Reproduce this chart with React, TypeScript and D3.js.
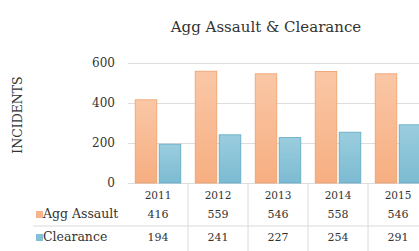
import React, { useEffect, useRef } from 'react';
import * as d3 from 'd3';

const years = ['2011', '2012', '2013', '2014', '2015'];
const seriesNames = ['Agg Assault', 'Clearance'];
const aggAssault = [416, 559, 546, 558, 546];
const clearance = [194, 241, 227, 254, 291];
const yTicks = [0, 200, 400, 600];

export default function App() {
  const ref = useRef<SVGSVGElement>(null);
  const width = 419;
  const height = 251;
  const margin = { Top: 63, Left: 128, Bottom: 183 };
  const colors = ['#F7B48A', '#84C1D6'];
  const strokes = ['#EE9E6C', '#62A9C3'];
  const textColor = '#333';
  const font = 'DejaVu Serif';

  useEffect(() => {
    const svg = d3.select(ref.current);
    svg.selectAll('*').remove();

    // ---------- gradients ----------
    const defs = svg.append('defs');
    const grads = [
      ['#FAC7A6', '#F6AE80'],
      ['#9ACDDE', '#7CBBD2'],
    ];
    grads.forEach((g, i) => {
      const lg = defs.append('linearGradient')
        .attr('id', `grad${i}`)
        .attr('x1', 0).attr('y1', 0).attr('x2', 0).attr('y2', 1);
      lg.append('stop').attr('offset', '0%').attr('stop-color', g[0]);
      lg.append('stop').attr('offset', '100%').attr('stop-color', g[1]);
    });

    // ---------- scales ----------
    const x0 = d3.scaleBand<string>()
      .domain(years)
      .range([margin.Left, margin.Left + 60 * years.length])
      .paddingInner(0)
      .paddingOuter(0);

    const x1 = d3.scaleBand<string>()
      .domain(seriesNames)
      .range([0, x0.bandwidth()])
      .paddingInner(0.1)
      .paddingOuter(0.3);

    const y = d3.scaleLinear()
      .domain([0, 600])
      .range([margin.Bottom, margin.Top]);

    // ---------- title ----------
    svg.append('text')
      .attr('x', 266)
      .attr('y', 32)
      .attr('text-anchor', 'middle')
      .attr('font-family', font)
      .attr('font-size', '15px')
      .attr('fill', textColor)
      .text('Agg Assault & Clearance');

    // y label
    svg.append('text')
      .attr('transform', `translate(22,115) rotate(-90)`)
      .attr('text-anchor', 'middle')
      .attr('font-family', font)
      .attr('font-size', '12.5px')
      .attr('fill', textColor)
      .text('INCIDENTS');

    // ---------- grid + y axis ----------
    const yAxis = d3.axisLeft(y)
      .tickValues(yTicks)
      .tickSize(-(width - margin.Left + 20))
      .tickPadding(13);

    const gy = svg.append('g')
      .attr('transform', `translate(${margin.Left},0)`)
      .call(yAxis);
    gy.select('.domain').remove();
    gy.selectAll('.tick line')
      .attr('stroke', '#DEDEDE')
      .attr('stroke-width', 1);
    gy.selectAll('.tick text')
      .attr('font-family', font)
      .attr('font-size', '12px')
      .attr('fill', textColor);

    // ---------- bars ----------
    const seriesValues = [aggAssault, clearance];
    seriesValues.forEach((vals, si) => {
      svg.append('g')
        .selectAll('rect')
        .data(years)
        .join('rect')
        .attr('x', (d) => (x0(d) as number) + (x1(seriesNames[si]) as number))
        .attr('y', (d, i) => y(vals[i]))
        .attr('width', x1.bandwidth())
        .attr('height', (d, i) => y(0) - y(vals[i]))
        .attr('fill', `url(#grad${si})`)
        .attr('stroke', strokes[si])
        .attr('stroke-width', 0.8);
    });

    // ---------- data table ----------
    const table = svg.append('g');
    // vertical separators
    table.selectAll('line.v')
      .data(years.slice(1))
      .join('line')
      .attr('class', 'v')
      .attr('x1', (d) => x0(d) as number)
      .attr('x2', (d) => x0(d) as number)
      .attr('y1', margin.Bottom)
      .attr('y2', height)
      .attr('stroke', '#DADADA');

    // horizontal separator between rows
    table.append('line')
      .attr('x1', 33)
      .attr('x2', width)
      .attr('y1', 226)
      .attr('y2', 226)
      .attr('stroke', '#DADADA');

    // year labels
    table.selectAll('text.year')
      .data(years)
      .join('text')
      .attr('class', 'year')
      .attr('x', (d) => (x0(d) as number) + x0.bandwidth() / 2)
      .attr('y', 199)
      .attr('text-anchor', 'middle')
      .attr('font-family', font)
      .attr('font-size', '10.5px')
      .attr('fill', textColor)
      .text((d) => d);

    const rowY = [218, 241];
    seriesValues.forEach((vals, si) => {
      // legend key
      table.append('rect')
        .attr('x', 36)
        .attr('y', rowY[si] - 7)
        .attr('width', 7)
        .attr('height', 7)
        .attr('fill', colors[si]);

      table.append('text')
        .attr('x', 43)
        .attr('y', rowY[si])
        .attr('font-family', font)
        .attr('font-size', '12.5px')
        .attr('fill', textColor)
        .text(seriesNames[si]);

      table.append('g')
        .selectAll('text')
        .data(years)
        .join('text')
        .attr('x', (d) => (x0(d) as number) + x0.bandwidth() / 2)
        .attr('y', rowY[si])
        .attr('text-anchor', 'middle')
        .attr('font-family', font)
        .attr('font-size', '11px')
        .attr('fill', textColor)
        .text((d, i) => vals[i]);
    });
  }, []);

  return (
    <svg
      ref={ref}
      width={width}
      height={height}
      style={{ position: 'absolute', left: 0, top: 0, background: '#fff' }}
    />
  );
}
